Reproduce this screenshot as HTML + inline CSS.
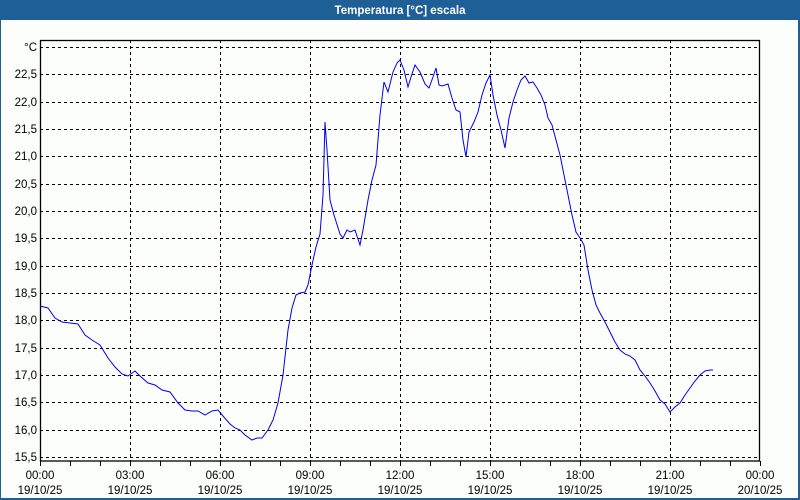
<!DOCTYPE html>
<html><head><meta charset="utf-8"><style>
html,body{margin:0;padding:0;width:800px;height:500px;overflow:hidden;background:#fcfefc}
svg{display:block}
text{font-family:"Liberation Sans",sans-serif;font-size:11.5px;fill:#000}
</style></head><body>
<svg width="800" height="500" viewBox="0 0 800 500">
<rect x="0" y="0" width="800" height="500" fill="#fcfefc"/>
<rect x="0" y="0" width="800" height="20" fill="#1e5f96"/>
<rect x="0" y="0" width="1" height="500" fill="#1e5f96"/>
<rect x="798" y="0" width="2" height="500" fill="#1e5f96"/>
<rect x="0" y="498" width="800" height="2" fill="#1e5f96"/>
<text x="400" y="14" text-anchor="middle" style="fill:#fff;font-weight:bold;font-size:11.5px">Temperatura [°C] escala</text>
<g stroke="#000" stroke-dasharray="3,3" stroke-width="1" fill="none">
<path d="M40 47.5H760M40 74.5H760M40 102.5H760M40 129.5H760M40 156.5H760M40 184.5H760M40 211.5H760M40 238.5H760M40 266.5H760M40 293.5H760M40 320.5H760M40 348.5H760M40 375.5H760M40 402.5H760M40 430.5H760M40 457.5H760"/>
<path d="M130.5 40V461M220.5 40V461M310.5 40V461M400.5 40V461M490.5 40V461M580.5 40V461M670.5 40V461"/>
</g>
<rect x="40.5" y="40.5" width="719" height="420.5" fill="none" stroke="#000" stroke-width="1.3"/>
<g stroke="#000"><path d="M40.5 461v5M70.5 461v5M100.5 461v5M130.5 461v5M160.5 461v5M190.5 461v5M220.5 461v5M250.5 461v5M280.5 461v5M310.5 461v5M340.5 461v5M370.5 461v5M400.5 461v5M430.5 461v5M460.5 461v5M490.5 461v5M520.5 461v5M550.5 461v5M580.5 461v5M610.5 461v5M640.5 461v5M670.5 461v5M700.5 461v5M730.5 461v5M760.5 461v5"/></g>
<g text-anchor="end">
<text x="37" y="51">°C</text>
<text x="37" y="78">22,5</text><text x="37" y="106">22,0</text><text x="37" y="133">21,5</text><text x="37" y="160">21,0</text>
<text x="37" y="188">20,5</text><text x="37" y="215">20,0</text><text x="37" y="242">19,5</text><text x="37" y="270">19,0</text>
<text x="37" y="297">18,5</text><text x="37" y="324">18,0</text><text x="37" y="352">17,5</text><text x="37" y="379">17,0</text>
<text x="37" y="406">16,5</text><text x="37" y="434">16,0</text><text x="37" y="461">15,5</text>
</g>
<g text-anchor="middle">
<text x="40" y="479">00:00</text><text x="40" y="494">19/10/25</text>
<text x="130" y="479">03:00</text><text x="130" y="494">19/10/25</text>
<text x="220" y="479">06:00</text><text x="220" y="494">19/10/25</text>
<text x="310" y="479">09:00</text><text x="310" y="494">19/10/25</text>
<text x="400" y="479">12:00</text><text x="400" y="494">19/10/25</text>
<text x="490" y="479">15:00</text><text x="490" y="494">19/10/25</text>
<text x="580" y="479">18:00</text><text x="580" y="494">19/10/25</text>
<text x="670" y="479">21:00</text><text x="670" y="494">19/10/25</text>
<text x="760" y="479">00:00</text><text x="760" y="494">20/10/25</text>
</g>
<polyline fill="none" stroke="#0000ee" stroke-width="1" points="40,306 48,308 55,318 62,322 70,323 78,324 85,335 92,340 100,345 108,358 115,367 122,374 128,376 135,371 140,376 148,383 155,385 162,390 170,392 178,403 185,410 192,411 198,411 205,415 212,411 218,410 223,416 230,424 235,428 240,430 245,435 252,440 257,438 262,438 268,430 273,420 278,403 283,375 288,330 292,308 296,295 300,293 305,292 308,285 312,265 316,247 320,234 323,195 325,122 327,150 330,200 334,215 340,234 343,238 347,230 350,232 355,230 360,245 363,230 368,200 372,180 376,165 380,115 384,82 388,92 393,72 397,63 400,60 404,70 408,87 411,77 415,65 420,72 425,84 429,88 433,77 436,68 439,85 442,86 448,84 452,98 456,110 460,112 463,140 466,157 469,132 474,122 478,112 482,95 486,83 490,75 493,95 497,115 501,130 505,148 509,118 513,102 517,90 521,80 525,76 529,83 533,82 537,88 541,95 545,105 548,118 552,125 556,140 560,155 564,175 568,195 572,215 576,232 580,238 584,245 588,270 592,290 596,305 600,313 605,322 610,332 615,342 620,350 625,354 630,356 635,360 640,370 645,376 650,383 655,391 660,400 665,404 670,412 675,407 680,403 685,395 690,388 695,381 700,375 705,371 710,370 713,370"/>
</svg>
</body></html>
